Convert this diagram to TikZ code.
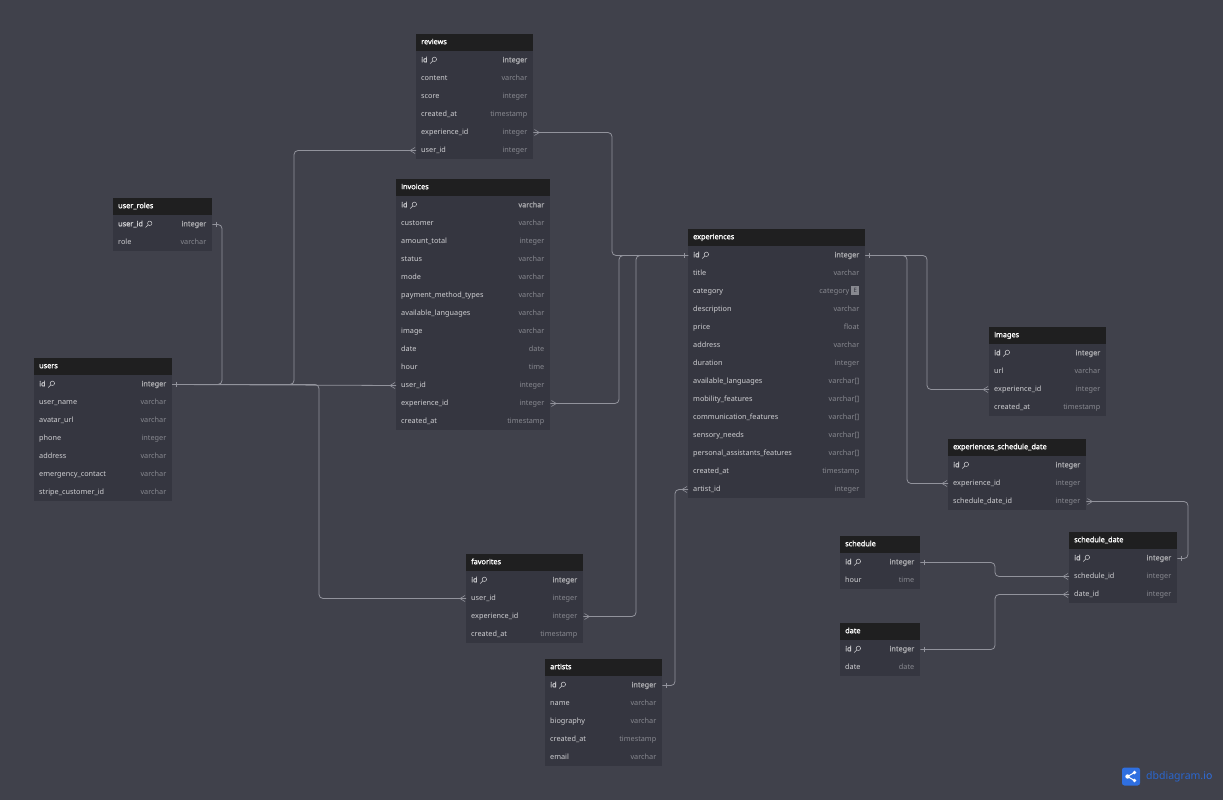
\documentclass[tikz,border=0pt]{standalone}
\usepackage{fontspec}
\setmainfont{Noto Sans}
\newfontfamily\fatf{Noto Sans}[FakeBold=1.3]
\usetikzlibrary{calc}
\definecolor{bgc}{HTML}{40414B}
\definecolor{bodyc}{HTML}{353640}
\definecolor{headc}{HTML}{1F1F20}
\definecolor{namec}{HTML}{D0D0D3}
\definecolor{typec}{HTML}{888990}
\definecolor{pkc}{HTML}{A8A8AC}
\definecolor{linec}{HTML}{92939C}
\definecolor{logoc}{HTML}{2F6FE0}
\definecolor{logot}{HTML}{2A66CF}
\tikzset{
  tablehead/.style={fill=headc,draw=none,inner sep=0pt,anchor=north west},
  tablebody/.style={fill=bodyc,draw=none,inner sep=0pt,anchor=north west},
  titletext/.style={font=\fontsize{7.3}{9}\fatf,text=white,anchor=west,inner sep=0pt,text height=6pt,text depth=2pt},
  rowbox/.style={inner sep=0pt,minimum height=18pt,anchor=west},
  fieldtext/.style={font=\fontsize{7.3}{9}\selectfont,text=namec,anchor=west,inner sep=0pt,text height=6pt,text depth=2pt},
  typetext/.style={font=\fontsize{7.3}{9}\selectfont,text=typec,anchor=east,inner sep=0pt,text height=6pt,text depth=2pt},
  conn/.style={draw=linec,line width=0.8pt,rounded corners=4pt},
  markline/.style={draw=linec,line width=0.6pt},
  keyicon/.style={draw=namec,line width=0.5pt},
}
% \dbtable{id}{x1}{x2}{top}{title}{field/type,...}
\newcommand{\dbtable}[6]{%
  \pgfmathsetmacro{\tw}{#3-#2}%
  \def\tcount{0}\foreach \a/\b [count=\k] in {#6}{\xdef\tcount{\k}}%
  \pgfmathsetmacro{\th}{17+18*\tcount}%
  \node[tablebody,minimum width=\tw pt,minimum height=\th pt] (#1) at (#2,#4) {};
  \node[tablehead,minimum width=\tw pt,minimum height=17pt] (#1-head) at (#2,#4) {};
  \node[titletext] (#1-title) at (#2+5,#4+8.2) {#5};
  \foreach \a/\b [count=\k] in {#6}{%
    \pgfmathsetmacro{\ry}{#4+8.5+18*\k}%
    \pgfmathsetmacro{\ty}{\ry-0.2}%
    \node[rowbox,minimum width=\tw pt] (#1-\k) at (#2,\ry) {};
    \ifnum\k=1
      \node[fieldtext,font=\fontsize{7.3}{9}\fatf] (#1-\k-f) at (#2+5,\ty) {\a};
      \node[typetext,font=\fontsize{7.3}{9}\fatf,text=pkc] (#1-\k-t) at (#3-5.5,\ty) {\b};
      \draw[keyicon] ($(#1-\k-f.east)+(6.6,-1)$) circle (2.2pt);
      \draw[keyicon] ($(#1-\k-f.east)+(5,0.6)$) -- ++(-2.6,2.6);
    \else
      \node[fieldtext] (#1-\k-f) at (#2+5,\ty) {\a};
      \node[typetext] (#1-\k-t) at (#3-5.5,\ty) {\b};
    \fi
  }%
}
\newcommand{\ebadge}{\tikz[baseline=-0.5pt,x=1pt,y=1pt]{\node[fill=typec,text=bodyc,inner sep=0pt,minimum width=8pt,minimum height=9pt,font=\fontsize{6}{7}\selectfont\bfseries,anchor=base] {E};}}
% side: +1 = line leaves to the right, -1 = to the left
\newcommand{\onemark}[2]{\draw[markline] ($(#1)+(#2*4,-2.6)$) -- ($(#1)+(#2*4,2.6)$);}
\newcommand{\manymark}[2]{%
  \draw[markline] ($(#1)+(#2*6,0)$) -- ($(#1)+(#2*1,-3)$);
  \draw[markline] ($(#1)+(#2*6,0)$) -- ($(#1)+(#2*1,3)$);
  \draw[markline] ($(#1)+(#2*1,0)$) -- ($(#1)+(#2*6,0)$);}
\begin{document}
\begin{tikzpicture}[x=1pt,y=-1pt]
\useasboundingbox (0,0) rectangle (1223,800);
\fill[bgc] (0,0) rectangle (1223,800);

\dbtable{reviews}{416}{533}{34}{reviews}{id/integer,content/varchar,score/integer,created\_at/timestamp,experience\_id/integer,user\_id/integer}
\dbtable{invoices}{396}{550}{179}{invoices}{id/varchar,customer/varchar,amount\_total/integer,status/varchar,mode/varchar,payment\_method\_types/varchar,available\_languages/varchar,image/varchar,date/date,hour/time,user\_id/integer,experience\_id/integer,created\_at/timestamp}
\dbtable{roles}{113}{212}{198}{user\_roles}{user\_id/integer,role/varchar}
\dbtable{users}{34}{172}{358}{users}{id/integer,user\_name/varchar,avatar\_url/varchar,phone/integer,address/varchar,emergency\_contact/varchar,stripe\_customer\_id/varchar}
\dbtable{exp}{688}{865}{229}{experiences}{id/integer,title/varchar,category/category \ebadge,description/varchar,price/float,address/varchar,duration/integer,available\_languages/varchar[],mobility\_features/varchar[],communication\_features/varchar[],sensory\_needs/varchar[],personal\_assistants\_features/varchar[],created\_at/timestamp,artist\_id/integer}
\dbtable{images}{989}{1106}{327}{images}{id/integer,url/varchar,experience\_id/integer,created\_at/timestamp}
\dbtable{esd}{948}{1086}{439}{experiences\_schedule\_date}{id/integer,experience\_id/integer,schedule\_date\_id/integer}
\dbtable{sd}{1069}{1177}{532}{schedule\_date}{id/integer,schedule\_id/integer,date\_id/integer}
\dbtable{sched}{840}{920}{536}{schedule}{id/integer,hour/time}
\dbtable{dt}{840}{920}{623}{date}{id/integer,date/date}
\dbtable{fav}{466}{583}{554}{favorites}{id/integer,user\_id/integer,experience\_id/integer,created\_at/timestamp}
\dbtable{art}{545}{662}{659}{artists}{id/integer,name/varchar,biography/varchar,created\_at/timestamp,email/varchar}

% vertical runs of the connectors
\coordinate (v222) at (222,0);
\coordinate (v294) at (294,0);
\coordinate (v319) at (319,0);
\coordinate (v612) at (612,0);
\coordinate (v619) at (619,0);
\coordinate (v636) at (636,0);
\coordinate (v675) at (675,0);
\coordinate (v907) at (907,0);
\coordinate (v927) at (927,0);
\coordinate (v995) at (995,0);
\coordinate (v1188) at (1188,0);

\draw[conn] (users-1.east) -- (users-1.east -| v222) -- (roles-1.east -| v222) -- (roles-1.east);
\draw[conn] (users-1.east) -- (users-1.east -| v294) -- (reviews-6.west -| v294) -- (reviews-6.west);
\draw[conn] (users-1.east) -- (invoices-11.west);
\draw[conn] (users-1.east) -- (users-1.east -| v319) -- (fav-2.west -| v319) -- (fav-2.west);
\draw[conn] (reviews-5.east) -- (reviews-5.east -| v612) -- (exp-1.west -| v612) -- (exp-1.west);
\draw[conn] (invoices-12.east) -- (invoices-12.east -| v619) -- (exp-1.west -| v619) -- (exp-1.west);
\draw[conn] (fav-3.east) -- (fav-3.east -| v636) -- (exp-1.west -| v636) -- (exp-1.west);
\draw[conn] (art-1.east) -- (art-1.east -| v675) -- (exp-14.west -| v675) -- (exp-14.west);
\draw[conn] (exp-1.east) -- (exp-1.east -| v927) -- (images-3.west -| v927) -- (images-3.west);
\draw[conn] (exp-1.east) -- (exp-1.east -| v907) -- (esd-2.west -| v907) -- (esd-2.west);
\draw[conn] (esd-3.east) -- (esd-3.east -| v1188) -- (sd-1.east -| v1188) -- (sd-1.east);
\draw[conn] (sched-1.east) -- (sched-1.east -| v995) -- (sd-2.west -| v995) -- (sd-2.west);
\draw[conn] (dt-1.east) -- (dt-1.east -| v995) -- (sd-3.west -| v995) -- (sd-3.west);

% relation ends
\onemark{users-1.east}{1}
\onemark{roles-1.east}{1}
\manymark{reviews-6.west}{-1}
\manymark{invoices-11.west}{-1}
\manymark{fav-2.west}{-1}
\manymark{reviews-5.east}{1}
\manymark{invoices-12.east}{1}
\manymark{fav-3.east}{1}
\onemark{exp-1.west}{-1}
\onemark{exp-1.east}{1}
\manymark{exp-14.west}{-1}
\onemark{art-1.east}{1}
\manymark{images-3.west}{-1}
\manymark{esd-2.west}{-1}
\manymark{esd-3.east}{1}
\onemark{sd-1.east}{1}
\manymark{sd-2.west}{-1}
\manymark{sd-3.west}{-1}
\onemark{sched-1.east}{1}
\onemark{dt-1.east}{1}

% logo
\node[fill=logoc,rounded corners=2.5pt,minimum size=18pt,inner sep=0pt] (logo) at (1131,776.5) {};
\draw[white,line width=1pt] ($(logo.center)+(3.5,-4)$) -- ($(logo.center)+(-3.5,0)$) -- ($(logo.center)+(3.5,4)$);
\fill[white] ($(logo.center)+(3.5,-4)$) circle (1.9pt) ($(logo.center)+(-3.5,0)$) circle (2.2pt) ($(logo.center)+(3.5,4)$) circle (1.9pt);
\node[font=\fontsize{10.5}{12}\selectfont,text=logot,anchor=west,inner sep=0pt] (logotext) at (1146,776.5) {dbdiagram.\textcolor{logoc}{io}};
\end{tikzpicture}
\end{document}
